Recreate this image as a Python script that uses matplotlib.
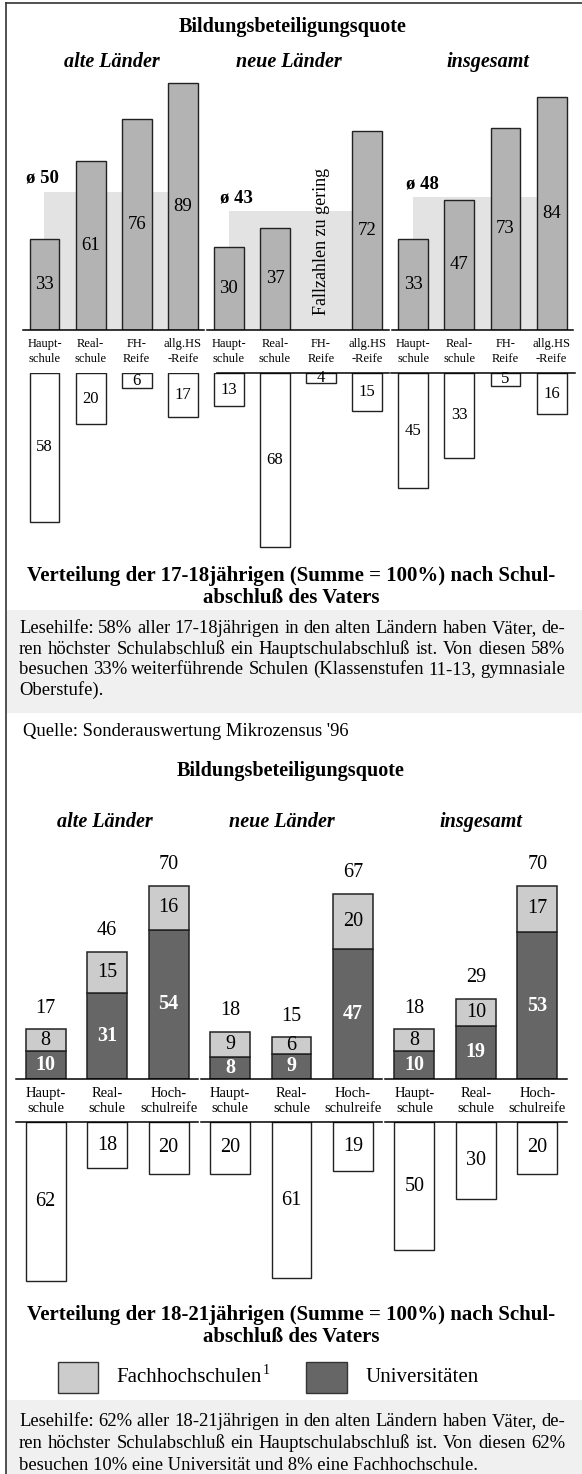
import matplotlib
matplotlib.use('Agg')
import numpy as np
import matplotlib.pyplot as plt
from matplotlib.patches import Rectangle
from matplotlib.lines import Line2D

plt.rcParams['font.family'] = ['Liberation Serif', 'DejaVu Serif']

# Teil 1: 17-18jaehrige
regionen = ['alte Länder', 'neue Länder', 'insgesamt']
abschluss_17 = ['Haupt-\nschule', 'Real-\nschule', 'FH-\nReife', 'allg.HS\n-Reife']
quote_17 = [33, 61, 76, 89, 30, 37, None, 72, 33, 47, 73, 84]
mittel_17 = [50, 43, 48]
anteil_17 = [58, 20, 6, 17, 13, 68, 4, 15, 45, 33, 5, 16]

# Teil 2: 18-21jaehrige
abschluss_18 = ['Haupt-\nschule', 'Real-\nschule', 'Hoch-\nschulreife']
uni_18 = [10, 31, 54, 8, 9, 47, 10, 19, 53]
fh_18 = [8, 15, 16, 9, 6, 20, 8, 10, 17]
gesamt_18 = [17, 46, 70, 18, 15, 67, 18, 29, 70]
anteil_18 = [62, 18, 20, 20, 61, 19, 50, 30, 20]

lesehilfe_17 = [
    'Lesehilfe: 58% aller 17-18jährigen in den alten Ländern haben Väter, de-',
    'ren höchster Schulabschluß ein Hauptschulabschluß ist. Von diesen 58%',
    'besuchen 33% weiterführende Schulen (Klassenstufen 11-13, gymnasiale',
    'Oberstufe).',
]
lesehilfe_18 = [
    'Lesehilfe: 62% aller 18-21jährigen in den alten Ländern haben Väter, de-',
    'ren höchster Schulabschluß ein Hauptschulabschluß ist. Von diesen 62%',
    'besuchen 10% eine Universität und 8% eine Fachhochschule.',
]

W, H = 582, 1474
fig = plt.figure(figsize=(W / 100, H / 100), dpi=100)

BAR_GREY = '#b3b3b3'
AVG_GREY = '#e3e3e3'
FH_GREY = '#cccccc'
UNI_GREY = '#666666'
EDGE = '#222222'


def px_axes(x0, y0, x1, y1):
    ax = fig.add_axes([x0 / W, 1 - y1 / H, (x1 - x0) / W, (y1 - y0) / H])
    ax.set_axis_off()
    ax.patch.set_alpha(0)
    return ax


def ftext(x, y, s, **kw):
    return fig.text(x / W, 1 - y / H, s, **kw)


def fbox(x0, y0, x1, y1, **kw):
    fig.add_artist(Rectangle((x0 / W, 1 - y1 / H), (x1 - x0) / W, (y1 - y0) / H,
                             transform=fig.transFigure, **kw))


def blocksatz(zeilen, x0, x1, ys, fs):
    r = fig.canvas.get_renderer()
    for k, (zeile, y) in enumerate(zip(zeilen, ys)):
        woerter = zeile.split(' ')
        if k == len(zeilen) - 1 or len(woerter) == 1:
            ftext(x0, y, zeile, fontsize=fs, va='baseline')
            continue
        ts = [ftext(x0, y, w, fontsize=fs, va='baseline') for w in woerter]
        breiten = [t.get_window_extent(r).width for t in ts]
        luecke = (x1 - x0 - sum(breiten)) / (len(ts) - 1)
        pos = x0
        for t, b in zip(ts, breiten):
            t.set_x(pos / W)
            pos += b + luecke


# background boxes and frame
fbox(7, 610, W, 713, color='#f0f0f0', lw=0, zorder=0)
fbox(7, 1400, W, H, color='#f0f0f0', lw=0, zorder=0)
fig.add_artist(Line2D([6 / W, 6 / W], [0, 1 - 3 / H], color='#333333', lw=1.2))
fig.add_artist(Line2D([6 / W, 1], [1 - 3 / H, 1 - 3 / H], color='#333333', lw=1.2))

# ---------- Teil 1 ----------
ftext(293, 27, 'Bildungsbeteiligungsquote', ha='center', va='center',
      fontsize=14.5, fontweight='bold')
for name, xp in zip(regionen, [111.5, 288.5, 487.5]):
    ftext(xp, 62, name, ha='center', va='center', fontsize=14.5,
          fontweight='bold', fontstyle='italic')

x1 = np.arange(len(quote_17))
ax1 = px_axes(21.45, 53, 574.65, 330)
ax1.set_xlim(-0.5, 11.5)
ax1.set_ylim(0, 100)

avg_dx = [-0.4, -0.2, -0.15]
for g, m in enumerate(mittel_17):
    ax1.add_patch(Rectangle((4 * g, 0), 3, m, color=AVG_GREY, lw=0, zorder=1))
    ax1.text(4 * g + avg_dx[g], m + 4.8, f'ø {m}', ha='left', va='center',
             fontsize=13.5, fontweight='bold', zorder=4)

for i, v in enumerate(quote_17):
    if v is None:
        ax1.text(i, 32, 'Fallzahlen zu gering', rotation=90, ha='center',
                 va='center', fontsize=13, zorder=4)
        continue
    ax1.bar(i, v, width=0.65, color=BAR_GREY, edgecolor=EDGE, lw=1.0, zorder=3)
    ax1.text(i, v / 2, str(v), ha='center', va='center', fontsize=13.5, zorder=4)

for g in range(3):
    ax1.plot([4 * g - 0.47, 4 * g + 3.47], [0, 0], color='k', lw=1.1,
             clip_on=False, zorder=5)
for i in x1:
    ax1.annotate(abschluss_17[i % 4], (i, 0), xytext=(0, -15.3),
                 textcoords='offset points', ha='center', va='center',
                 fontsize=9, linespacing=1.3)

ax2 = px_axes(21.45, 373, 574.65, 629.5)
ax2.set_xlim(-0.5, 11.5)
ax2.set_ylim(100, 0)
bars = ax2.bar(x1, anteil_17, width=0.65, color='white', edgecolor=EDGE, lw=1.0)
for b, v in zip(bars, anteil_17):
    t = ax2.text(b.get_x() + b.get_width() / 2, v / 2, str(v), ha='center',
                 va='center', fontsize=12)
    t.set_clip_path(b)
ax2.plot([3.75, 7.48], [0, 0], color='k', lw=1.1, clip_on=False)
ax2.plot([7.52, 11.5], [0, 0], color='k', lw=1.1, clip_on=False)

ftext(291, 587, 'Verteilung der 17-18jährigen (Summe = 100%) nach Schul-\n'
      'abschluß des Vaters', ha='center', va='center', fontsize=15,
      fontweight='bold', linespacing=1.08, multialignment='center')

blocksatz(lesehilfe_17, 19, 565, [633, 653.5, 674, 694.5], 13.4)
ftext(23, 731, "Quelle: Sonderauswertung Mikrozensus '96", va='center', fontsize=13.4)

# ---------- Teil 2 ----------
ftext(291, 771, 'Bildungsbeteiligungsquote', ha='center', va='center',
      fontsize=14.5, fontweight='bold')
for name, xp in zip(regionen, [105, 282, 481]):
    ftext(xp, 821.7, name, ha='center', va='center', fontsize=14.5,
          fontweight='bold', fontstyle='italic')

x2 = np.arange(len(uni_18))
ax3 = px_axes(15, 1078.7 - 276, 568, 1078.7)
ax3.set_xlim(-0.5, 8.5)
ax3.set_ylim(0, 100)
ax3.bar(x2, uni_18, width=0.65, color=UNI_GREY, edgecolor=EDGE, lw=1.1, zorder=3)
ax3.bar(x2, fh_18, bottom=uni_18, width=0.65, color=FH_GREY, edgecolor=EDGE,
        lw=1.1, zorder=3)
for i in x2:
    u, f = uni_18[i], fh_18[i]
    ax3.text(i, u / 2, str(u), ha='center', va='center', fontsize=14.5,
             fontweight='bold', color='white', zorder=4)
    ax3.text(i, u + f / 2, str(f), ha='center', va='center', fontsize=14.5, zorder=4)
    ax3.annotate(str(gesamt_18[i]), (i, u + f), xytext=(0, 15),
                 textcoords='offset points', ha='center', va='center', fontsize=14.5)
    ax3.annotate(abschluss_18[i % 3], (i, 0), xytext=(0, -16),
                 textcoords='offset points', ha='center', va='center',
                 fontsize=10.5, linespacing=1.2)
for g in range(3):
    ax3.plot([3 * g - 0.48, 3 * g + 2.48], [0, 0], color='k', lw=1.1,
             clip_on=False, zorder=5)

ax4 = px_axes(15, 1122.3, 568, 1122.3 + 256)
ax4.set_xlim(-0.5, 8.5)
ax4.set_ylim(100, 0)
bars = ax4.bar(x2, anteil_18, width=0.65, color='white', edgecolor=EDGE, lw=1.0)
for b, v in zip(bars, anteil_18):
    ax4.text(b.get_x() + b.get_width() / 2, v / 2, str(v), ha='center',
             va='center', fontsize=14.5)
for g in range(3):
    ax4.plot([3 * g - 0.48, 3 * g + 2.48], [0, 0], color='k', lw=1.1, clip_on=False)

ftext(291, 1326, 'Verteilung der 18-21jährigen (Summe = 100%) nach Schul-\n'
      'abschluß des Vaters', ha='center', va='center', fontsize=15,
      fontweight='bold', linespacing=1.08, multialignment='center')

# legend
fbox(57.5, 1362, 97.5, 1393, facecolor=FH_GREY, edgecolor='#333333', lw=1.0)
t = ftext(116.5, 1377, 'Fachhochschulen', va='center', fontsize=15)
ende = t.get_window_extent(fig.canvas.get_renderer()).x1
fig.text(ende / W + 1 / W, 1 - 1371 / H, '1', va='center', fontsize=10)
fbox(305.5, 1362, 346.5, 1393, facecolor=UNI_GREY, edgecolor='#333333', lw=1.0)
ftext(365, 1377, 'Universitäten', va='center', fontsize=15)

blocksatz(lesehilfe_18, 19, 565, [1426, 1448, 1470], 13.4)

fig.savefig('out.png', dpi=100)
